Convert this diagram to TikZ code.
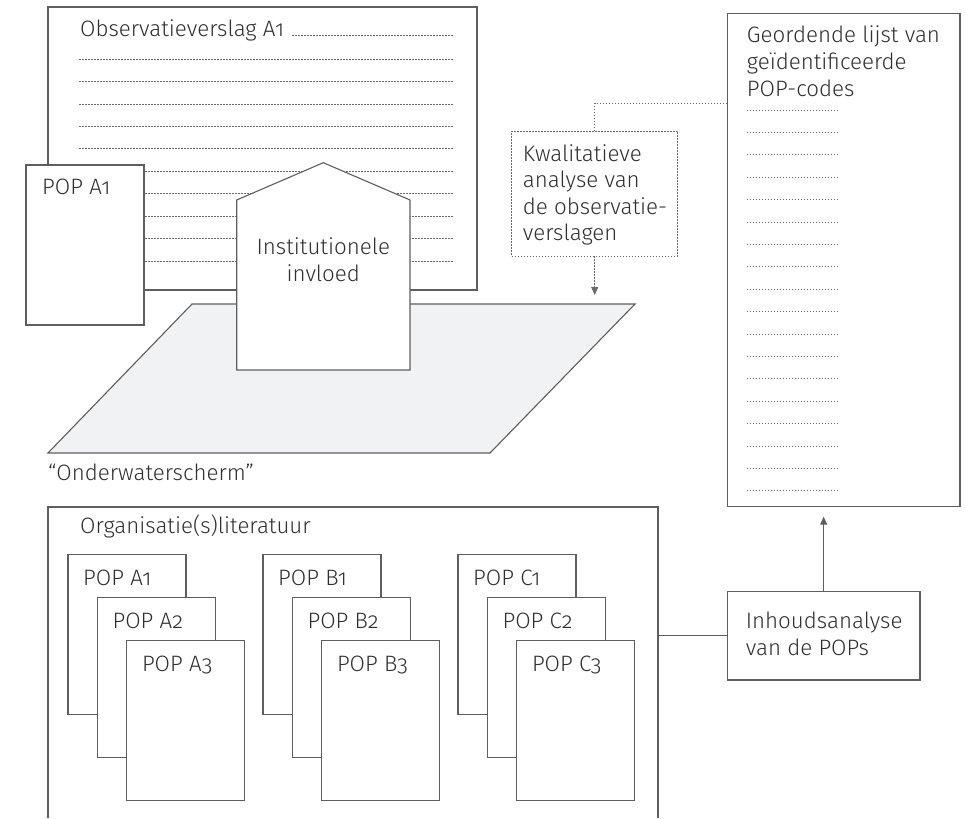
\documentclass[tikz,border=0pt]{standalone}
\usepackage{fontspec}
\setmainfont{Fira Sans}[Numbers=OldStyle, UprightFont=* Light]
\usetikzlibrary{arrows.meta,calc}
\definecolor{edge}{HTML}{5E5E5E}
\definecolor{ink}{HTML}{303030}
\definecolor{screen}{HTML}{F1F2F4}
\definecolor{rule}{HTML}{6A6A6A}
\tikzset{
  sheet/.style={draw=edge, line width=1.1pt, fill=white, inner sep=0pt, outer sep=0pt, anchor=north west},
  txt/.style={text=ink, font=\fontsize{22.3}{27}\selectfont, inner sep=0pt, anchor=base west, align=left},
  dotrule/.style={draw=rule, line width=0.8pt, dash pattern=on 1.6pt off 1.4pt},
  link/.style={draw=edge, line width=1.1pt},
  tip/.style={-{Triangle[length=8pt,width=7pt]}},
}
\begin{document}
\begin{tikzpicture}[x=1pt,y=-1pt]
\useasboundingbox (0,0) rectangle (965,818);

% observation report sheet with ruled lines
\node[sheet, minimum width=429pt, minimum height=283pt] (obs) at (48,7) {};
\node[txt] (obstitle) at (80,37) {Observatieverslag A1};
\draw[dotrule] (obstitle.base east) ++(8,-2) -- (453,35);
\foreach \k in {0,...,9}
  \draw[dotrule] (79,{59.3+22.4*\k}) -- (453,{59.3+22.4*\k});

% the "underwater screen"
\coordinate (scrTL) at (192,304);
\coordinate (scrTR) at (635,304);
\coordinate (scrBR) at (490,453);
\coordinate (scrBL) at (48,453);
\coordinate (scrIn) at (594.7,304);
\filldraw[link, fill=screen] (scrTL) -- (scrTR) -- (scrBR) -- (scrBL) -- cycle;
\node[txt] (scrlabel) at (48,480) {“Onderwaterscherm”};

% personal development plan on top of the report
\node[sheet, minimum width=118pt, minimum height=160pt] (popTop) at (26,165) {};
\node[txt] at (42,195) {POP A1};

% institutional influence (house shape)
\filldraw[link, fill=white] (236.7,370) -- (236.7,200) -- (323.3,162.7)
  -- (410,200) -- (410,370) -- cycle;
% multi-line texts are placed by the baseline of their last line
\node[txt, anchor=base, align=center] (inst) at (323.3,281) {Institutionele\\invloed};

% organisational literature frame (open at the bottom)
\coordinate (orgNW) at (48,507);
\coordinate (orgNE) at (658,507);
\draw[link] (48,818) -- (orgNW) -- (orgNE) -- (658,818);
\node[txt] at (80,533) {Organisatie(s)literatuur};

% stacks of POPs
\foreach \L [count=\i from 0] in {A,B,C}{
  \foreach \j in {1,2,3}{
    \pgfmathsetmacro{\px}{68+195*\i+29.4*(\j-1)}
    \pgfmathsetmacro{\py}{554.3+43*(\j-1)}
    \node[sheet, minimum width=118pt, minimum height=160pt] (pop\L\j) at (\px,\py) {};
    \node[txt] at (\px+15,\py+31) {POP \L\j};
  }
}

% content analysis
\node[sheet, minimum width=192.7pt, minimum height=88.3pt] (inh) at (727.3,591.7) {};
\node[txt] at (745.7,655) {Inhoudsanalyse\\van de POPs};

% ordered list of codes
\node[sheet, minimum width=232.7pt, minimum height=493.4pt] (geo) at (727.3,13.3) {};
\node[txt] at (746.7,96.2) {Geordende lijst van\\geïdentificeerde\\POP-codes};
\foreach \k in {0,...,17}
  \draw[dotrule] (746.7,{110+22.4*\k}) -- (837.3,{110+22.4*\k});

% qualitative analysis
\node[sheet, dotrule, minimum width=166pt, minimum height=125pt] (kwal) at (511.7,131) {};
\node[txt, font=\fontsize{22.3}{26.3}\selectfont] at (522.7,240.5) {Kwalitatieve\\analyse van\\de observatie-\\verslagen};

% connectors
\draw[dotrule] ([yshift=-90pt]geo.north west) -| (kwal.north);
\draw[dotrule, tip, shorten >=9pt] (kwal.south) -- (kwal.south |- scrIn);
\draw[link, tip, shorten >=10pt] (inh.north) -- (inh.north |- geo.south);
\draw[link] (inh.west) -- (inh.west -| orgNE);
\end{tikzpicture}
\end{document}
